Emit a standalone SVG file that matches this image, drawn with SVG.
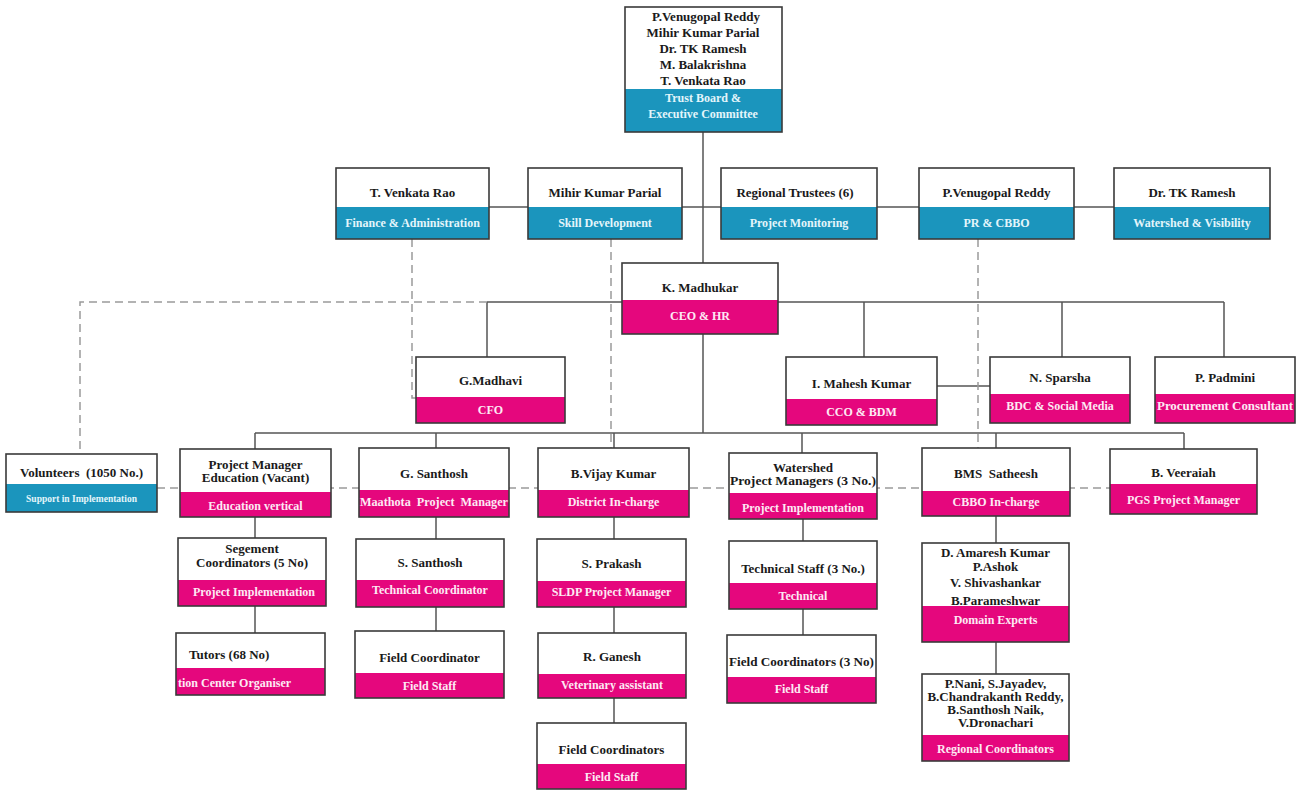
<svg xmlns="http://www.w3.org/2000/svg" width="1301" height="792" viewBox="0 0 1301 792">
<style>
.w{fill:#fff}
.pk{fill:#e5077d}
.bl{fill:#1b95bd}
.o{fill:none;stroke:#3a3a3a;stroke-width:1.6}
.n{font-family:"Liberation Serif","Times New Roman",serif;font-weight:bold;font-size:13px;fill:#1a1a1a;text-anchor:middle}
.l{font-family:"Liberation Serif","Times New Roman",serif;font-weight:bold;font-size:12px;fill:#fdeaf4;text-anchor:middle}
.lb{fill:#e4f5fb}
.c{stroke:#555;stroke-width:1.5;fill:none}
.d{stroke:#9a9a9a;stroke-width:1.5;stroke-dasharray:8 5;fill:none}
</style>
<rect width="1301" height="792" fill="#fff"/>
<g id="connectors">
<path class="c" d="M703 132V263M489 207H1114M703 334V433M487 302H1224M487 302V357M864 302V357M1062 302V357M1224 302V357M937 386H990M255 433H1184M255 433V449M436 433V448M614 433V448M802 433V453M996 433V448M1184 433V449M255 517V538M436 517V539M614 517V539M803 519V541M996 516V543M255 606V633M436 607V631M614 607V633M803 609V635M996 642V674M614 698V723"/>
<path class="d" d="M412 239V398H416M611 239V448M978 239V448M487 302H80V454M157 488H1110"/>
</g>
<g id="n-top"><rect class="w" x="625" y="7" width="157" height="125"/><rect class="bl" x="625" y="89" width="157" height="43"/><rect class="o" x="625" y="7" width="157" height="125"/>
<text class="n" x="706" y="21">P.Venugopal Reddy</text><text class="n" x="703" y="37">Mihir Kumar Parial</text><text class="n" x="703" y="53">Dr. TK Ramesh</text><text class="n" x="703" y="69">M. Balakrishna</text><text class="n" x="703" y="85">T. Venkata Rao</text>
<text class="l lb" x="703" y="102">Trust Board &amp;</text><text class="l lb" x="703" y="118">Executive Committee</text></g>
<g id="n-tvr"><rect class="w" x="336" y="168" width="153" height="71"/><rect class="bl" x="336" y="207" width="153" height="32"/><rect class="o" x="336" y="168" width="153" height="71"/><text class="n" x="412.5" y="197">T. Venkata Rao</text><text class="l lb" x="412.5" y="227">Finance &amp; Administration</text></g>
<g id="n-mihir"><rect class="w" x="528" y="168" width="154" height="71"/><rect class="bl" x="528" y="207" width="154" height="32"/><rect class="o" x="528" y="168" width="154" height="71"/><text class="n" x="605" y="197">Mihir Kumar Parial</text><text class="l lb" x="605" y="227">Skill Development</text></g>
<g id="n-regional"><rect class="w" x="721" y="168" width="156" height="71"/><rect class="bl" x="721" y="207" width="156" height="32"/><rect class="o" x="721" y="168" width="156" height="71"/><text class="n" x="795" y="197">Regional Trustees (6)</text><text class="l lb" x="799" y="227">Project Monitoring</text></g>
<g id="n-pvr"><rect class="w" x="919" y="168" width="155" height="71"/><rect class="bl" x="919" y="207" width="155" height="32"/><rect class="o" x="919" y="168" width="155" height="71"/><text class="n" x="996.5" y="197">P.Venugopal Reddy</text><text class="l lb" x="996.5" y="227">PR &amp; CBBO</text></g>
<g id="n-drtk"><rect class="w" x="1114" y="168" width="156" height="71"/><rect class="bl" x="1114" y="207" width="156" height="32"/><rect class="o" x="1114" y="168" width="156" height="71"/><text class="n" x="1192" y="197">Dr. TK Ramesh</text><text class="l lb" x="1192" y="227">Watershed &amp; Visibility</text></g>
<g id="n-madhukar"><rect class="w" x="622" y="263" width="156" height="71"/><rect class="pk" x="622" y="300" width="156" height="34"/><rect class="o" x="622" y="263" width="156" height="71"/><text class="n" x="700" y="292">K. Madhukar</text><text class="l" x="700" y="320">CEO &amp; HR</text></g>
<g id="n-madhavi"><rect class="w" x="416" y="357" width="149" height="66"/><rect class="pk" x="416" y="397" width="149" height="26"/><rect class="o" x="416" y="357" width="149" height="66"/><text class="n" x="490.5" y="385">G.Madhavi</text><text class="l" x="490.5" y="414">CFO</text></g>
<g id="n-mahesh"><rect class="w" x="786" y="357" width="151" height="68"/><rect class="pk" x="786" y="399" width="151" height="26"/><rect class="o" x="786" y="357" width="151" height="68"/><text class="n" x="861.5" y="388">I. Mahesh Kumar</text><text class="l" x="861.5" y="416">CCO &amp; BDM</text></g>
<g id="n-sparsha"><rect class="w" x="990" y="357" width="140" height="66"/><rect class="pk" x="990" y="394" width="140" height="29"/><rect class="o" x="990" y="357" width="140" height="66"/><text class="n" x="1060" y="382">N. Sparsha</text><text class="l" x="1060" y="410">BDC &amp; Social Media</text></g>
<g id="n-padmini"><rect class="w" x="1155" y="357" width="140" height="66"/><rect class="pk" x="1155" y="394" width="140" height="29"/><rect class="o" x="1155" y="357" width="140" height="66"/><text class="n" x="1225" y="382">P. Padmini</text><text class="l" x="1225" y="410" textLength="136" lengthAdjust="spacingAndGlyphs">Procurement Consultant</text></g>
<g id="n-volunteers"><rect class="w" x="6" y="454" width="151" height="58"/><rect class="bl" x="6" y="484" width="151" height="28"/><rect class="o" x="6" y="454" width="151" height="58"/><text class="n" x="81.5" y="477" xml:space="preserve">Volunteers  (1050 No.)</text><text class="l lb" x="81.5" y="502" style="font-size:9.5px">Support in Implementation</text></g>
<g id="n-pmedu"><rect class="w" x="180" y="449" width="151" height="68"/><rect class="pk" x="180" y="492" width="151" height="25"/><rect class="o" x="180" y="449" width="151" height="68"/><text class="n" x="255.5" y="469">Project Manager</text><text class="n" x="255.5" y="482">Education (Vacant)</text><text class="l" x="255.5" y="510">Education vertical</text></g>
<g id="n-gsanthosh"><rect class="w" x="359" y="448" width="150" height="69"/><rect class="pk" x="359" y="490" width="150" height="27"/><rect class="o" x="359" y="448" width="150" height="69"/><text class="n" x="434" y="478">G. Santhosh</text><text class="l" x="434" y="506" textLength="148" lengthAdjust="spacingAndGlyphs" xml:space="preserve">Maathota  Project  Manager</text></g>
<g id="n-vijay"><rect class="w" x="538" y="448" width="151" height="69"/><rect class="pk" x="538" y="490" width="151" height="27"/><rect class="o" x="538" y="448" width="151" height="69"/><text class="n" x="613.5" y="478">B.Vijay Kumar</text><text class="l" x="613.5" y="506">District In-charge</text></g>
<g id="n-watershed"><rect class="w" x="729" y="453" width="148" height="66"/><rect class="pk" x="729" y="493" width="148" height="26"/><rect class="o" x="729" y="453" width="148" height="66"/><text class="n" x="803" y="472">Watershed</text><text class="n" x="803" y="485" textLength="146" lengthAdjust="spacingAndGlyphs">Project Managers (3 No.)</text><text class="l" x="803" y="512">Project Implementation</text></g>
<g id="n-bms"><rect class="w" x="922" y="448" width="148" height="68"/><rect class="pk" x="922" y="491" width="148" height="25"/><rect class="o" x="922" y="448" width="148" height="68"/><text class="n" x="996" y="478" xml:space="preserve">BMS  Satheesh</text><text class="l" x="996" y="506">CBBO In-charge</text></g>
<g id="n-veeraiah"><rect class="w" x="1110" y="449" width="147" height="65"/><rect class="pk" x="1110" y="484" width="147" height="30"/><rect class="o" x="1110" y="449" width="147" height="65"/><text class="n" x="1183.5" y="477">B. Veeraiah</text><text class="l" x="1183.5" y="504">PGS Project Manager</text></g>
<g id="n-segment"><rect class="w" x="178" y="538" width="148" height="68"/><rect class="pk" x="178" y="580" width="148" height="26"/><rect class="o" x="178" y="538" width="148" height="68"/><text class="n" x="252" y="553">Segement</text><text class="n" x="252" y="567">Coordinators (5 No)</text><text class="l" x="254" y="596">Project Implementation</text></g>
<g id="n-ssanthosh"><rect class="w" x="356" y="539" width="148" height="68"/><rect class="pk" x="356" y="580" width="148" height="27"/><rect class="o" x="356" y="539" width="148" height="68"/><text class="n" x="430" y="567">S. Santhosh</text><text class="l" x="430" y="594">Technical Coordinator</text></g>
<g id="n-sprakash"><rect class="w" x="537" y="539" width="149" height="68"/><rect class="pk" x="537" y="581" width="149" height="26"/><rect class="o" x="537" y="539" width="149" height="68"/><text class="n" x="611.5" y="568">S. Prakash</text><text class="l" x="611.5" y="596">SLDP Project Manager</text></g>
<g id="n-techstaff"><rect class="w" x="729" y="541" width="148" height="68"/><rect class="pk" x="729" y="583" width="148" height="26"/><rect class="o" x="729" y="541" width="148" height="68"/><text class="n" x="803" y="573">Technical Staff (3 No.)</text><text class="l" x="803" y="600">Technical</text></g>
<g id="n-domain"><rect class="w" x="922" y="543" width="147" height="99"/><rect class="pk" x="922" y="606" width="147" height="36"/><rect class="o" x="922" y="543" width="147" height="99"/><text class="n" x="995.5" y="557">D. Amaresh Kumar</text><text class="n" x="995.5" y="571">P.Ashok</text><text class="n" x="995.5" y="587">V. Shivashankar</text><text class="n" x="995.5" y="605">B.Parameshwar</text><text class="l" x="995.5" y="624">Domain Experts</text></g>
<g id="n-tutors"><rect class="w" x="176" y="633" width="149" height="62"/><rect class="pk" x="176" y="668" width="149" height="27"/><rect class="o" x="176" y="633" width="149" height="62"/><text class="n" x="189" y="659" style="text-anchor:start">Tutors (68 No)</text><text class="l" x="178" y="687" style="text-anchor:start">tion Center Organiser</text></g>
<g id="n-fieldcoord"><rect class="w" x="355" y="631" width="149" height="67"/><rect class="pk" x="355" y="673" width="149" height="25"/><rect class="o" x="355" y="631" width="149" height="67"/><text class="n" x="429.5" y="662">Field Coordinator</text><text class="l" x="429.5" y="690">Field Staff</text></g>
<g id="n-ganesh"><rect class="w" x="538" y="633" width="148" height="65"/><rect class="pk" x="538" y="674" width="148" height="24"/><rect class="o" x="538" y="633" width="148" height="65"/><text class="n" x="612" y="661">R. Ganesh</text><text class="l" x="612" y="689">Veterinary assistant</text></g>
<g id="n-fc3"><rect class="w" x="727" y="635" width="149" height="68"/><rect class="pk" x="727" y="677" width="149" height="26"/><rect class="o" x="727" y="635" width="149" height="68"/><text class="n" x="801.5" y="666" textLength="145" lengthAdjust="spacingAndGlyphs">Field Coordinators (3 No)</text><text class="l" x="801.5" y="693">Field Staff</text></g>
<g id="n-regcoord"><rect class="w" x="922" y="674" width="147" height="87"/><rect class="pk" x="922" y="735" width="147" height="26"/><rect class="o" x="922" y="674" width="147" height="87"/><text class="n" x="995.5" y="688">P.Nani, S.Jayadev,</text><text class="n" x="995.5" y="701">B.Chandrakanth Reddy,</text><text class="n" x="995.5" y="714">B.Santhosh Naik,</text><text class="n" x="995.5" y="727">V.Dronachari</text><text class="l" x="995.5" y="753">Regional Coordinators</text></g>
<g id="n-fieldcoords"><rect class="w" x="537" y="723" width="149" height="66"/><rect class="pk" x="537" y="764" width="149" height="25"/><rect class="o" x="537" y="723" width="149" height="66"/><text class="n" x="611.5" y="754">Field Coordinators</text><text class="l" x="611.5" y="781">Field Staff</text></g>
</svg>
